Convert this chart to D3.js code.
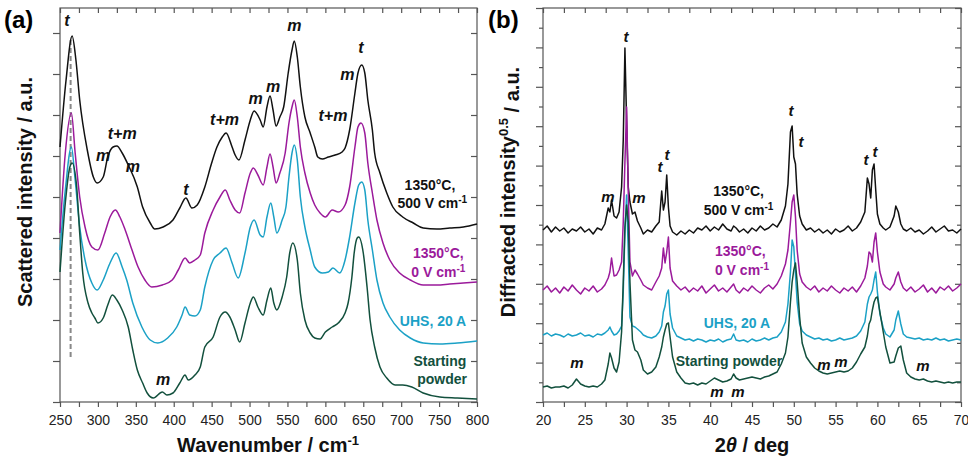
<!DOCTYPE html>
<meta charset="utf-8">
<html>
<head>
<title>raman and xrd of zirconia</title>
<style>
  body { margin: 0; background: #fff; }
  svg { font-family: "Liberation Sans", Arial, sans-serif; }
  .frame { fill: none; stroke: #555; stroke-width: 1.2px; }
  .axis path { display: none; }
  .axis line { stroke: #555; stroke-width: 1.2px; }
  .axis text { font-size: 14px; fill: #222; }
  .spec { fill: none; stroke-width: 1.5px; stroke-linejoin: round; }
  .peak { font-weight: bold; font-style: italic; fill: #111; text-anchor: middle; }
  .series { font-weight: bold; font-size: 14px; text-anchor: middle; }
  .title { font-weight: bold; font-size: 20px; text-anchor: middle; fill: #111; }
</style>
</head>
<body>
<script src="https://d3js.org/d3.v7.min.js"></script>
<script>

// ---- data ----
var seriesColors = ["#111111", "#9b1a9b", "#1ba1c6", "#12503d"];

// Raman, [wavenumber, intensity a.u.]
var ramanBlack = [[250,255],[258,322],[266,366],[271,342],[276,302],[286,252],[294,225],[299,219],[307,225],[313,245],[320,255],[325,256],[332,249],[340,237],[352,215],[359,195],[369,179],[375,173],[386,175],[399,182],[408,194],[416,204],[424,194],[431,197],[441,215],[450,239],[457,255],[464,265],[469,269],[477,255],[481,247],[486,242],[494,262],[501,282],[506,291],[514,282],[518,275],[523,295],[527,306],[531,292],[535,276],[540,285],[545,295],[551,329],[556,352],[559,361],[563,345],[567,315],[573,285],[580,269],[586,255],[590,245],[596,243],[604,245],[613,247],[622,250],[626,254],[632,272],[639,309],[643,329],[648,337],[652,329],[656,302],[662,272],[665,249],[672,229],[681,209],[689,195],[702,185],[716,179],[729,174],[747,173],[764,174],[782,175],[800,178]];
var ramanPurple = [[250,169],[257,249],[265,289],[270,249],[276,205],[283,175],[292,155],[300,152],[309,169],[316,185],[323,192],[329,185],[336,172],[345,152],[353,135],[362,122],[371,115],[385,117],[398,122],[406,132],[415,144],[421,139],[428,142],[435,147],[441,169],[452,192],[461,205],[468,212],[474,202],[481,192],[487,189],[494,209],[501,229],[505,234],[511,227],[518,217],[523,235],[527,248],[531,235],[535,219],[540,229],[547,249],[552,279],[556,295],[559,302],[563,285],[567,255],[573,229],[580,209],[586,197],[593,189],[600,185],[609,192],[617,190],[626,197],[632,215],[639,255],[643,275],[647,279],[652,269],[656,239],[662,209],[668,182],[676,159],[685,142],[698,129],[712,122],[729,117],[747,117],[764,118],[782,119],[800,120]];
var ramanCyan = [[250,152],[257,212],[265,255],[270,222],[276,175],[283,142],[292,119],[299,112],[307,122],[316,139],[324,149],[332,135],[338,122],[346,99],[358,75],[369,62],[379,59],[392,64],[404,75],[411,87],[415,95],[421,87],[428,86],[435,92],[441,115],[452,142],[461,149],[469,154],[477,139],[485,124],[494,149],[501,175],[506,182],[514,167],[518,165],[523,185],[528,199],[532,185],[536,169],[543,182],[548,195],[552,225],[556,249],[559,257],[563,242],[567,205],[573,175],[580,152],[586,135],[596,129],[604,130],[610,134],[619,129],[626,142],[632,165],[639,199],[644,217],[648,220],[652,212],[656,182],[662,152],[668,122],[676,99],[685,85],[698,72],[712,64],[729,59],[751,58],[774,59],[800,61]];
var ramanGreen = [[250,130],[257,199],[263,235],[266,239],[272,215],[276,169],[280,129],[287,99],[292,89],[296,84],[300,79],[307,84],[313,97],[319,107],[325,102],[332,92],[340,75],[346,52],[352,32],[359,19],[365,9],[373,4],[385,10],[391,7],[399,9],[408,19],[415,27],[419,22],[428,27],[435,35],[441,55],[452,65],[461,85],[468,90],[474,85],[481,72],[487,60],[494,79],[501,99],[505,105],[511,95],[518,87],[523,102],[528,114],[532,99],[536,92],[543,105],[549,125],[553,149],[557,159],[563,142],[567,109],[573,82],[580,69],[586,64],[593,63],[600,70],[609,75],[617,79],[626,89],[630,99],[635,125],[638,149],[642,164],[644,165],[650,149],[655,115],[659,82],[665,55],[672,35],[681,24],[692,17],[702,17],[714,15],[729,9],[751,5],[774,4],[800,3]];
var ramanSeries = [ramanBlack, ramanPurple, ramanCyan, ramanGreen];
var ramanTickValues = [250, 300, 350, 400, 450, 500, 550, 600, 650, 700, 750, 800];
var ramanRefLine = [264, 45, 362]; // t band position, from, to

// XRD, 2theta grid and sqrt intensity a.u.
var twoTheta = [20,20.5,21,21.5,22,22.5,23,23.5,24,24.5,25,25.5,26,26.5,27,
  27.4,27.8,28.0,28.2,28.5,28.8,29.1,29.4,29.6,29.8,30.0,30.2,30.4,30.7,31.0,31.3,31.7,32.0,
  32.5,33.0,33.5,33.9,34.2,34.4,34.6,34.8,35.0,35.2,35.5,
  36,36.5,37,37.5,38,38.5,39,39.5,40,40.5,41,41.5,42,42.5,
  42.8,43.1,43.5,
  44,44.5,45,45.5,46,46.5,47,47.5,48,48.5,
  49.0,49.3,49.6,49.8,50.0,50.2,50.4,50.7,51.0,
  51.5,52,52.5,53,53.5,54,54.5,55,55.5,56,56.5,57,57.5,58.0,
  58.5,58.8,59.0,59.2,59.4,59.6,59.8,60.0,60.3,60.7,61.0,61.5,62.0,62.2,62.5,62.8,63.1,63.5,
  64,64.5,65,65.5,66,66.5,67,67.5,68,68.5,69,69.5,70];
var xrdBlack = [172,176,170,175,171,174,169,173,171,175,170,173,168,174,172,
  178,194,190,202,186,184,190,215,262,354,280,215,200,188,190,181,174,168,
  172,170,176,180,211,192,200,227,195,176,170,
  167,171,168,172,169,174,172,176,171,175,172,178,173,171,
  176,174,170,
  173,169,174,171,176,172,174,178,175,182,
  196,218,270,276,245,238,208,186,178,
  172,174,170,173,169,172,168,173,170,172,176,171,174,180,
  190,224,218,204,232,238,212,188,178,174,172,175,186,196,190,178,173,171,
  174,170,172,168,171,175,170,173,176,171,172,169,173];
var xrdPurple = [112,116,110,114,109,115,111,117,112,108,114,111,116,110,113,
  117,124,130,144,126,127,132,140,180,240,295,210,140,126,132,128,122,117,
  114,112,120,126,134,154,139,150,165,134,121,
  116,112,115,110,114,111,116,109,113,117,111,114,110,115,
  118,112,109,
  114,111,116,112,109,114,117,113,118,126,
  138,152,180,200,207,185,152,128,120,
  115,112,116,110,114,111,116,112,109,114,111,115,110,116,
  124,136,150,148,140,160,169,150,130,118,115,112,118,124,130,120,114,111,
  115,110,113,117,110,114,109,115,112,116,111,114,118];
var xrdCyan = [67,69,66,68,67,65,68,66,67,69,66,67,65,68,67,
  69,72,75,71,67,68,71,76,110,170,207,150,85,76,75,73,70,67,
  65,64,66,70,76,90,96,108,112,88,74,
  66,64,62,63,61,63,62,60,62,61,63,60,62,63,
  68,62,61,
  62,60,63,61,62,64,62,64,65,70,
  80,98,130,162,155,128,100,78,71,
  67,65,63,64,62,63,61,62,64,62,63,64,66,71,
  80,98,105,108,112,122,130,110,88,74,68,65,72,82,91,78,68,65,
  64,63,64,62,63,62,64,62,63,61,62,63,62];
var xrdGreen = [15,16,14,15,15,16,14,17,23,18,16,15,16,15,18,
  22,38,49,44,34,30,40,70,120,175,197,180,120,62,52,50,42,32,
  28,30,35,45,55,65,72,78,79,65,45,
  30,24,19,18,19,17,19,18,21,24,22,20,21,23,
  28,24,22,
  23,24,25,24,23,25,26,28,30,38,
  49,65,100,120,132,139,120,85,59,
  45,39,34,31,29,28,29,30,31,30,31,34,40,48,
  55,66,78,82,92,100,104,105,90,70,55,39,40,46,54,56,42,29,
  25,23,22,23,21,20,21,20,19,20,19,20,20];
var xrdSeries = [xrdBlack, xrdPurple, xrdCyan, xrdGreen];
var xrdTickValues = [20, 25, 30, 35, 40, 45, 50, 55, 60, 65, 70];

// peak labels [x, y, text]
var ramanPeaks = [[259,382,"t"],[307,247,"m"],[332,269,"t+m"],[346,236,"m"],[416,213,"t"],
  [467,283,"t+m"],[508,304,"m"],[531,316,"m"],[559,377,"m"],[610,287,"t+m"],[629,328,"m"],
  [647,355,"t"],[386,23,"m"]];
var xrdPeaks = [[29.93,365,"t"],[27.78,205,"m"],[31.48,204,"m"],[34.0,235,"t"],[34.83,247,"t"],
  [49.67,291,"t"],[50.86,260,"t"],[58.64,242,"t"],[59.71,250,"t"],[24.07,39,"m"],
  [40.81,10,"m"],[43.33,10,"m"],[53.61,37,"m"],[55.65,40,"m"],[65.45,36,"m"]];

// series labels [x, y, line, superscript]
var ramanNames = [[738,217,"1350°C,",""],[741,199,"500 V cm","-1"],[749,149,"1350°C,",""],
  [749,130,"0 V cm","-1"],[742,81,"UHS, 20 A",""],[751,41,"Starting",""],[754,23,"powder",""]];
var ramanNameSeries = [0, 0, 1, 1, 2, 3, 3];
var xrdNames = [[43.4,211,"1350°C,",""],[43.4,192,"500 V cm","-1"],[43.6,151,"1350°C,",""],
  [43.8,132,"0 V cm","-1"],[43.2,79,"UHS, 20 A",""],[42.25,41,"Starting powder",""]];
var xrdNameSeries = [0, 0, 1, 1, 2, 3];

// ---- drawing ----
var svg = d3.select("body").append("svg")
    .attr("width", 968)
    .attr("height", 458);

var plotTop = 8, plotBottom = 402;

var x1 = d3.scaleLinear().domain([250, 800]).range([60, 477]);
var y1 = d3.scaleLinear().domain([0, 394]).range([plotBottom, plotTop]);
var x2 = d3.scaleLinear().domain([20, 70]).range([543, 961]);
var y2 = d3.scaleLinear().domain([0, 394]).range([plotBottom, plotTop]);

function drawFrame(x, y, xMinorStep, xLabels, yMajor, yMinor) {
  var xr = x.range(), xd = x.domain();
  var allX = d3.range(xd[0], xd[1] + 0.001, xMinorStep);

  svg.append("g").attr("class", "axis")
      .attr("transform", "translate(0," + plotBottom + ")")
      .call(d3.axisBottom(x).tickValues(allX).tickSize(5).tickPadding(8)
        .tickFormat(function(d) { return xLabels.indexOf(d) >= 0 ? d : ""; }));
  svg.append("g").attr("class", "axis")
      .attr("transform", "translate(0," + plotTop + ")")
      .call(d3.axisTop(x).tickValues(allX).tickSize(-5).tickFormat(""));

  svg.append("g").attr("class", "axis")
      .attr("transform", "translate(" + xr[0] + ",0)")
      .call(d3.axisLeft(y).tickValues(yMajor).tickSize(7).tickFormat(""));
  svg.append("g").attr("class", "axis")
      .attr("transform", "translate(" + xr[1] + ",0)")
      .call(d3.axisRight(y).tickValues(yMajor).tickSize(-6).tickFormat(""));
  if (yMinor.length) {
    svg.append("g").attr("class", "axis")
        .attr("transform", "translate(" + xr[0] + ",0)")
        .call(d3.axisLeft(y).tickValues(yMinor).tickSize(4).tickFormat(""));
    svg.append("g").attr("class", "axis")
        .attr("transform", "translate(" + xr[1] + ",0)")
        .call(d3.axisRight(y).tickValues(yMinor).tickSize(-4).tickFormat(""));
  }

  svg.append("rect").attr("class", "frame")
      .attr("x", xr[0]).attr("y", plotTop)
      .attr("width", xr[1] - xr[0]).attr("height", plotBottom - plotTop);
}

drawFrame(x1, y1, 25, ramanTickValues, d3.range(0, 394, 41), []);
drawFrame(x2, y2, 2.5, xrdTickValues, d3.range(0, 395, 39.4), d3.range(19.7, 394, 39.4));

// raman reference line
svg.append("line")
    .attr("x1", x1(ramanRefLine[0])).attr("x2", x1(ramanRefLine[0]))
    .attr("y1", y1(ramanRefLine[1])).attr("y2", y1(ramanRefLine[2]))
    .attr("stroke", "#888").attr("stroke-width", 2).attr("stroke-dasharray", "5,3");

var ramanLine = d3.line()
    .x(function(d) { return x1(d[0]); })
    .y(function(d) { return y1(d[1]); })
    .curve(d3.curveMonotoneX);

ramanSeries.forEach(function(s, i) {
  svg.append("path").datum(s)
      .attr("class", "spec")
      .attr("stroke", seriesColors[i])
      .attr("d", ramanLine);
});

xrdSeries.forEach(function(s, i) {
  var pts = twoTheta.map(function(t, k) { return [t, s[k]]; });
  svg.append("path").datum(pts)
      .attr("class", "spec")
      .attr("stroke", seriesColors[i])
      .attr("stroke-width", 1.3)
      .attr("d", d3.line()
        .x(function(d) { return x2(d[0]); })
        .y(function(d) { return y2(d[1]); }));
});

function peakLabels(list, x, y, size) {
  svg.selectAll(null).data(list).enter().append("text")
      .attr("class", "peak")
      .attr("font-size", size)
      .attr("x", function(d) { return x(d[0]); })
      .attr("y", function(d) { return y(d[1]); })
      .attr("dy", "0.35em")
      .text(function(d) { return d[2]; });
}
peakLabels(ramanPeaks, x1, y1, 16);
peakLabels(xrdPeaks, x2, y2, 15);

function nameLabels(list, which, x, y) {
  list.forEach(function(d, i) {
    var t = svg.append("text").attr("class", "series")
        .attr("fill", seriesColors[which[i]])
        .attr("x", x(d[0])).attr("y", y(d[1])).attr("dy", "0.35em");
    t.append("tspan").text(d[2]);
    if (d[3]) t.append("tspan").attr("dy", "-0.5em").attr("font-size", "10px").text(d[3]);
  });
}
nameLabels(ramanNames, ramanNameSeries, x1, y1);
nameLabels(xrdNames, xrdNameSeries, x2, y2);

// axis titles
var t1 = svg.append("text").attr("class", "title").attr("x", 268).attr("y", 452);
t1.append("tspan").text("Wavenumber / cm");
t1.append("tspan").attr("dy", "-0.55em").attr("font-size", "13px").text("-1");

var t2 = svg.append("text").attr("class", "title").attr("x", 752).attr("y", 452);
t2.append("tspan").text("2");
t2.append("tspan").attr("font-style", "italic").text("θ");
t2.append("tspan").text("  / deg");

var t3 = svg.append("text").attr("class", "title")
    .attr("transform", "translate(32,192) rotate(-90)");
t3.text("Scattered intensity / a.u.");

var t4 = svg.append("text").attr("class", "title")
    .attr("transform", "translate(515,192) rotate(-90)");
t4.append("tspan").text("Diffracted intensity");
t4.append("tspan").attr("dy", "-0.55em").attr("font-size", "13px").text("0.5");
t4.append("tspan").attr("dy", "0.55em").text(" / a.u.");

// panel letters
svg.append("text").attr("x", 4).attr("y", 28)
    .attr("font-size", "24px").attr("font-weight", "bold").text("(a)");
svg.append("text").attr("x", 488).attr("y", 28)
    .attr("font-size", "24px").attr("font-weight", "bold").text("(b)");

</script>
</body>
</html>
